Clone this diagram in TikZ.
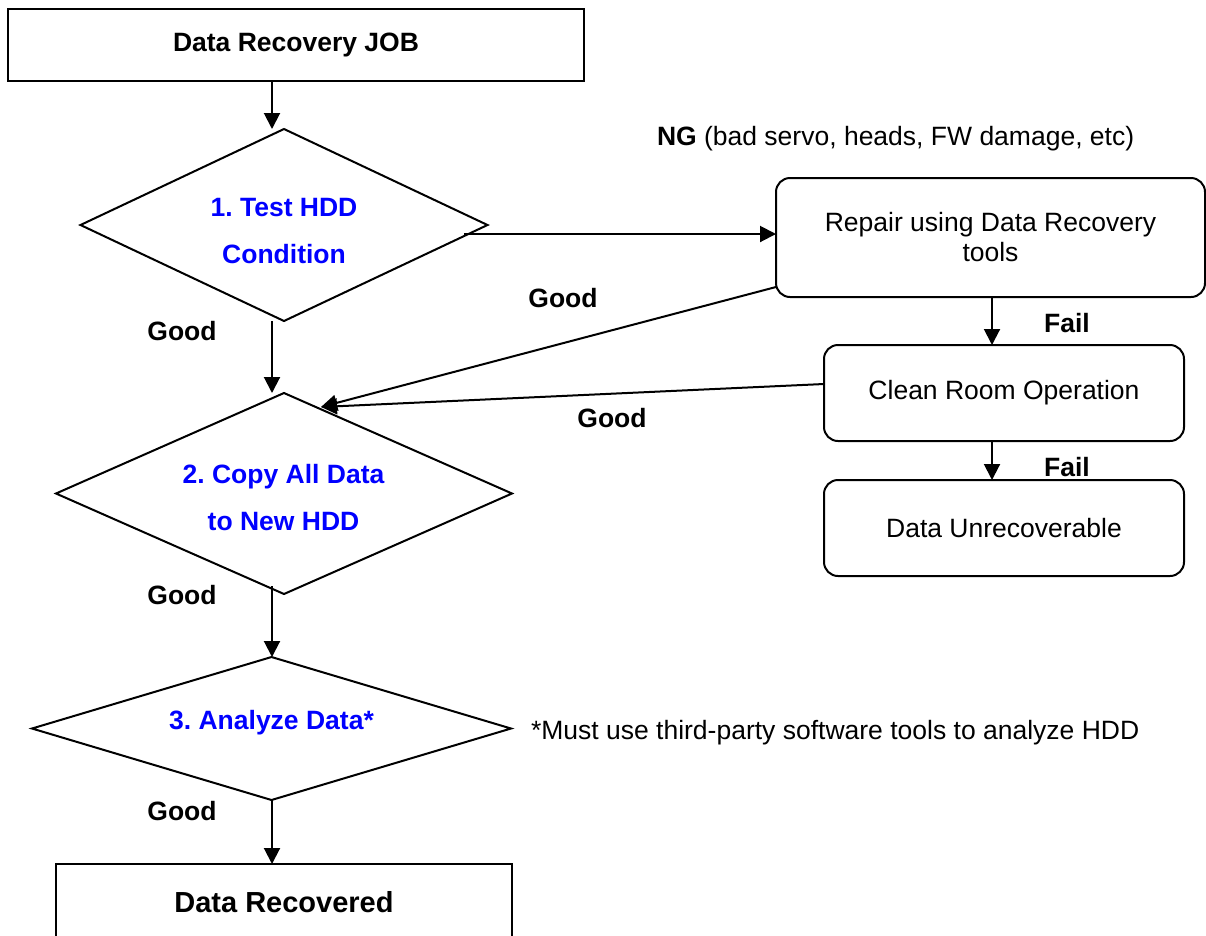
\documentclass[tikz,border=0pt]{standalone}
\usepackage{fontspec}
\setmainfont{Liberation Sans}
\usetikzlibrary{shapes.geometric,arrows.meta}
\frenchspacing
\begin{document}
\begin{tikzpicture}[x=1pt,y=-1pt,
  every node/.style={font=\fontsize{26.5}{31}\selectfont, inner sep=0pt, outer sep=0pt},
  sqbox/.style={draw, line width=2pt, rectangle},
  rbox/.style={draw, line width=2pt, rectangle, rounded corners=14pt, align=center},
  dia/.style={draw, diamond, line width=2pt},
  arr/.style={line width=2pt, -{Triangle[length=16pt,width=16pt]}},
  lbl/.style={font=\fontsize{26.5}{31}\selectfont\bfseries},
  btxt/.style={text={rgb,255:red,0;green,0;blue,255}, font=\fontsize{26.5}{47}\selectfont\bfseries, align=center}]
\useasboundingbox (0,0) rectangle (1206,935);
\clip (0,0) rectangle (1206,935);

% boxes
\node[sqbox, minimum width=576pt, minimum height=72pt, font=\fontsize{26.5}{31}\selectfont\bfseries] (top) at (296,45) {Data Recovery JOB};
\node[rbox, minimum width=429pt, minimum height=119pt, font=\fontsize{26.5}{30}\selectfont] (repair) at (990.5,237.5) {Repair using Data Recovery\\tools};
\node[rbox, minimum width=360pt, minimum height=96pt] (clean) at (1004,393) {Clean Room Operation};
\node[rbox, minimum width=360pt, minimum height=96pt] (unrec) at (1004,528) {Data Unrecoverable};
\node[sqbox, minimum width=456pt, minimum height=76pt, font=\fontsize{29}{34}\selectfont\bfseries] (bot) at (284,902) {Data Recovered};

% diamonds
\node[dia, minimum width=407pt, minimum height=192pt] (d1) at (284,225) {};
\node[dia, minimum width=456pt, minimum height=201pt] (d2) at (284,493.5) {};
\node[dia, minimum width=479pt, minimum height=143pt] (d3) at (271.5,728.5) {};
\node[btxt] (t1) at (284,231) {1. Test HDD\\Condition};
\node[btxt] (t2) at (283.5,498) {2. Copy All Data\\to New HDD};
\node[btxt] (t3) at (271.5,723) {3. Analyze Data*};

% labels
\node[anchor=west] (ng) at (657,139) {\textbf{NG} (bad servo, heads, FW damage, etc)};
\node[anchor=west] (note) at (531,733) {*Must use third-party software tools to analyze HDD};
\node[lbl] (g1) at (182,331) {Good};
\node[lbl] (g2) at (182,595) {Good};
\node[lbl] (g3) at (182,811) {Good};
\node[lbl] (g4) at (563,298) {Good};
\node[lbl] (g5) at (612,418) {Good};
\node[lbl] (f1) at (1067,323) {Fail};
\node[lbl] (f2) at (1067,467) {Fail};

% coordinates
\coordinate (sp) at (272,0);
\coordinate (fx) at (992,0);
\coordinate (d1o) at (464,234);
\coordinate (d2o) at (272,586);
\coordinate (rpo) at (776,287);
\coordinate (clo) at (824,384);
\coordinate (d2i) at (321,407);

% connectors
\draw[arr] (top.south -| sp) -- (d1.north -| sp);
\draw[arr] (d1.south -| sp) -- (d2.north -| sp);
\draw[arr] (d2o) -- (d3.north -| sp);
\draw[arr] (d3.south -| sp) -- (bot.north -| sp);
\draw[arr] (d1o) -- (repair.west |- d1o);
\draw[arr] (repair.south -| fx) -- (clean.north -| fx);
\draw[arr] (clean.south -| fx) -- (unrec.north -| fx);
\draw[arr] (rpo) -- (d2i);
\draw[arr] (clo) -- (d2i);
\end{tikzpicture}
\end{document}
